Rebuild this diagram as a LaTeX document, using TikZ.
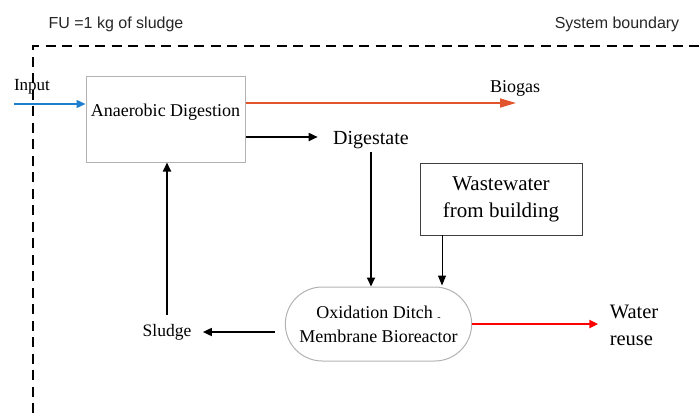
\documentclass[tikz,border=0pt]{standalone}
\usepackage{fontspec}
\setmainfont{Liberation Serif}
\newfontfamily\notefont{Liberation Sans}
\usetikzlibrary{arrows.meta,positioning,shapes.misc}

\definecolor{inblue}{RGB}{30,127,208}
\definecolor{gasorange}{RGB}{226,84,44}

\begin{document}
\begin{tikzpicture}[x=1pt,y=-1pt, >={Triangle[length=9pt,width=8pt]},
       node distance=1em]

    \tikzstyle{proc}=[draw=black!30, line width=1pt, inner sep=2pt]
    \tikzstyle{flow}=[->, line width=1.7pt]
    \tikzstyle{boundary}=[line width=2.6pt, dash pattern=on 10pt off 6.5pt]
    \tikzstyle{note}=[font=\notefont\fontsize{16}{19}\selectfont, text=black!85]

    \useasboundingbox (0,0) rectangle (700,413);

    % notes and boundary
    \node[note] (fu) at (116,24) {FU =1 kg of sludge};
    \node[note] (sysb) at (617,24) {System boundary};
    \draw[boundary] (33,413) -- (33,46) -- (700,46);

    % processes
    \node[proc, minimum width=159pt, minimum height=86pt] (ad) at (165.5,119) {};
    \node[font=\fontsize{18}{21}\selectfont] (adtxt) at (ad.center) [yshift=7pt] {Anaerobic Digestion};
    \node[proc, draw=black!75, line width=0.9pt, minimum width=162pt, minimum height=72pt, align=center,
          font=\fontsize{21}{27}\selectfont] (ww) at (501,199) {Wastewater\\from building};
    \node[rounded rectangle, draw=black!30, line width=1pt, minimum width=193pt, minimum height=74pt, align=center,
          font=\fontsize{18}{24}\selectfont] (mbr) at (378.5,324)
          {Oxidation Ditch \raisebox{-2pt}{\fontsize{10}{10}\selectfont -}\\Membrane Bioreactor};

    % flows
    \node[font=\fontsize{17}{20}\selectfont] (input) at (32,87) {Input};
    \coordinate (in) at (14,104);
    \node[font=\fontsize{18}{21}\selectfont] (biogas) at (515,88) {Biogas};
    \coordinate (gas) at (516,103);
    \node[font=\fontsize{20}{24}\selectfont] (dig) at (371,140) {Digestate};
    \node[font=\fontsize{17.5}{21}\selectfont] (sludge) at (167,332) {Sludge};
    \node[align=left, font=\fontsize{20.5}{27}\selectfont] (reuse) at (634,325) {Water\\reuse};
    \coordinate (adout) at ([yshift=-18pt]ad.east);
    \coordinate (wwout) at ([xshift=-59pt]ww.south);

    \draw[flow, inblue, line width=1.4pt] (in) -- (ad.west|-in);
    \draw[flow, gasorange, >={Triangle[length=16pt,width=9pt]}] (ad.east|-gas) -- (gas);
    \draw[flow, shorten >=12pt] (adout) -- (dig.west|-adout);
    \draw[flow] (dig.south) -- (dig.south|-mbr.north);
    \draw[flow, line width=1pt, shorten >=1pt, >={Triangle[length=10pt,width=8pt]}] (wwout) -- (wwout|-mbr.north);
    \draw[flow, red, line width=2.6pt, shorten >=8pt, >={Triangle[length=9pt,width=8pt]}] (mbr.east) -- (reuse.west|-mbr.east);
    \draw[flow, shorten <=10pt, shorten >=8pt] (mbr.west|-sludge.east) -- (sludge.east);
    \draw[flow, shorten <=6pt] (sludge.north) -- (sludge.north|-ad.south);

\end{tikzpicture}
\end{document}
